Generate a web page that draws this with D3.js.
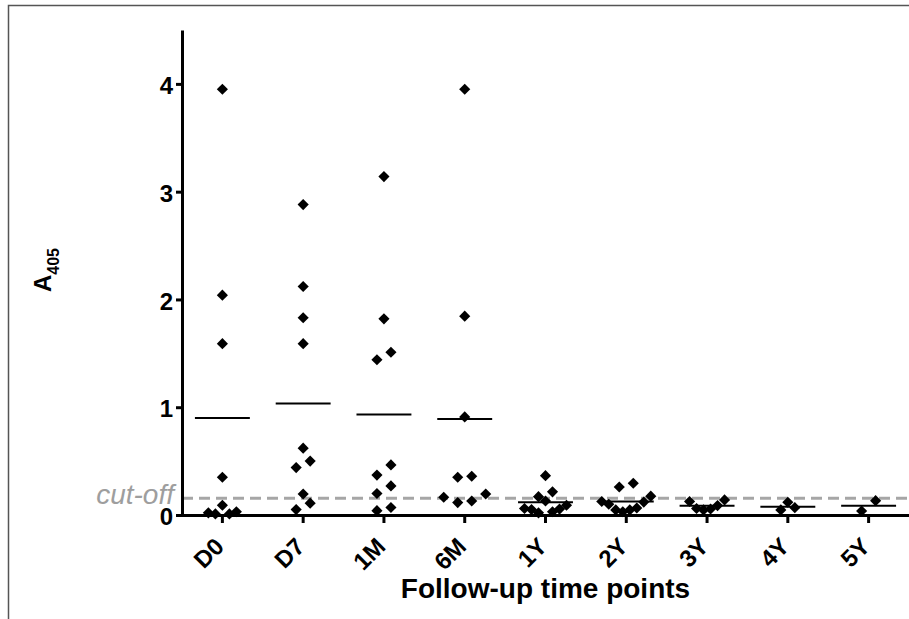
<!DOCTYPE html>
<html>
<head>
<meta charset="utf-8">
<script src="https://cdn.jsdelivr.net/npm/d3@7"></script>
<style>
    body { margin: 0; background: #fff; }
    svg { display: block; }
    .axis path, .axis line { stroke: #000; stroke-width: 3; }
    .axis text { font-family: "Liberation Sans", Arial, sans-serif; font-weight: bold; font-size: 24px; fill: #000; }
</style>
</head>
<body>
<div id="scatter-chart"></div>
<script>
// time points on the x axis
var timePoints = ["D0", "D7", "1M", "6M", "1Y", "2Y", "3Y", "4Y", "5Y"];

// A405 readings per time point
var valuesD0 = [3.95, 2.04, 1.59, 0.35, 0.09, 0.03, 0.02, 0.01, 0.01];
var valuesD7 = [2.88, 2.12, 1.83, 1.59, 0.62, 0.50, 0.44, 0.195, 0.11, 0.05];
var values1M = [3.14, 1.82, 1.51, 1.44, 0.465, 0.37, 0.27, 0.20, 0.07, 0.04];
var values6M = [3.95, 1.845, 0.91, 0.36, 0.35, 0.195, 0.165, 0.13, 0.115];
var values1Y = [0.365, 0.215, 0.17, 0.13, 0.09, 0.06, 0.055, 0.05, 0.03, 0.02];
var values2Y = [0.295, 0.26, 0.175, 0.125, 0.12, 0.10, 0.065, 0.047, 0.047, 0.03];
var values3Y = [0.14, 0.125, 0.087, 0.06, 0.056, 0.047];
var values4Y = [0.118, 0.068, 0.047];
var values5Y = [0.133, 0.037];

var yTicks = [0, 1, 2, 3, 4];
var cutOff = 0.155;

/**
 * Spreads the dots of one group sideways, like a scatter dot plot:
 * dots with close values share a row and are placed next to each other.
 */
function spreadDots(values, rowGap, step) {
    var sorted = values.slice().sort(d3.ascending);
    var rows = [];
    sorted.forEach(function(v) {
        var row = rows[rows.length - 1];
        if (row && v - row[0] <= rowGap) {
            row.push(v);
        } else {
            rows.push([v]);
        }
    });
    var dots = [];
    rows.forEach(function(row) {
        var n = row.length;
        var gap = (n % 2 === 0 && n <= 4) ? step * 2 : step;
        var slots = d3.range(n).map(function(i) { return (i - (n - 1) / 2) * gap; });
        // fill outer pairs first, centre slot last
        var order = slots.slice().sort(function(a, b) {
            if (a === 0) return 1;
            if (b === 0) return -1;
            return Math.abs(a) - Math.abs(b) || a - b;
        });
        row.forEach(function(v, i) {
            dots.push({value: v, dx: order[i]});
        });
    });
    return dots;
}

var width = 909, height = 619;
var margin = {top: 30, right: 0, bottom: 104, left: 182};

var svg = d3.select("#scatter-chart").append("svg")
    .attr("width", width)
    .attr("height", height);

//outer frame, only the top and left edges fall inside the picture
svg.append("rect")
    .attr("x", 8.5)
    .attr("y", 5.5)
    .attr("width", 1200)
    .attr("height", 1000)
    .attr("fill", "none")
    .attr("stroke", "#555")
    .attr("stroke-width", 1.5);

var xScale = d3.scaleBand()
    .domain(timePoints)
    .range([margin.left, width - margin.right]);

var yScale = d3.scaleLinear()
    .domain([0, 4.5])
    .range([height - margin.bottom, margin.top]);

//cut-off dashed line sits under the dots
svg.append("line")
    .attr("x1", margin.left)
    .attr("x2", width - margin.right)
    .attr("y1", yScale(cutOff))
    .attr("y2", yScale(cutOff))
    .attr("stroke", "#a6a6a6")
    .attr("stroke-width", 3)
    .attr("stroke-dasharray", "11,6");

svg.append("text")
    .attr("x", 174)
    .attr("y", yScale(cutOff) + 6)
    .attr("text-anchor", "end")
    .style("font-family", "'Liberation Sans', Arial, sans-serif")
    .style("font-style", "italic")
    .style("font-size", "28px")
    .attr("fill", "#9e9e9e")
    .text("cut-off");

// axes
var yAxis = svg.append("g")
    .attr("class", "axis")
    .attr("transform", "translate(" + margin.left + ",0)")
    .call(d3.axisLeft(yScale).tickValues(yTicks).tickSize(6).tickSizeOuter(0).tickPadding(3).tickFormat(d3.format("d")));
yAxis.selectAll("text").attr("dy", "0.4em");

var xAxis = svg.append("g")
    .attr("class", "axis")
    .attr("transform", "translate(0," + yScale(0) + ")")
    .call(d3.axisBottom(xScale).tickSize(8).tickSizeOuter(0));
xAxis.select(".domain").attr("stroke-linecap", "square");
xAxis.selectAll("text")
    .attr("x", null)
    .attr("y", null)
    .attr("dy", null)
    .attr("text-anchor", "end")
    .attr("transform", "translate(3,33) rotate(-45)");

svg.append("text")
    .attr("x", (margin.left + width - margin.right) / 2)
    .attr("y", 598)
    .attr("text-anchor", "middle")
    .style("font-family", "'Liberation Sans', Arial, sans-serif")
    .style("font-weight", "bold")
    .style("font-size", "28px")
    .text("Follow-up time points");

var yTitle = svg.append("text")
    .attr("transform", "translate(51,270) rotate(-90)")
    .attr("text-anchor", "middle")
    .style("font-family", "'Liberation Sans', Arial, sans-serif")
    .style("font-weight", "bold")
    .style("font-size", "24px");
yTitle.append("tspan").text("A");
yTitle.append("tspan").attr("dy", 8).style("font-size", "16px").text("405");

// dots and mean lines for every time point
var groups = [valuesD0, valuesD7, values1M, values6M, values1Y, values2Y, values3Y, values4Y, values5Y];
var diamond = d3.symbol().type(d3.symbolSquare).size(62);
var meanWidth = xScale.bandwidth() * 0.68;

groups.forEach(function(values, index) {
    var cx = xScale(timePoints[index]) + xScale.bandwidth() / 2;
    var g = svg.append("g").attr("class", "group");

    g.append("line")
        .attr("x1", cx - meanWidth / 2)
        .attr("x2", cx + meanWidth / 2)
        .attr("y1", yScale(d3.mean(values)))
        .attr("y2", yScale(d3.mean(values)))
        .attr("stroke", "#000")
        .attr("stroke-width", 2);

    g.selectAll("path")
        .data(spreadDots(values, 0.15, 7))
        .enter()
        .append("path")
        .attr("d", diamond)
        .attr("transform", function(d) {
            return "translate(" + (cx + d.dx) + "," + yScale(d.value) + ") rotate(45)";
        })
        .attr("fill", "#000");
});
</script>
</body>
</html>
